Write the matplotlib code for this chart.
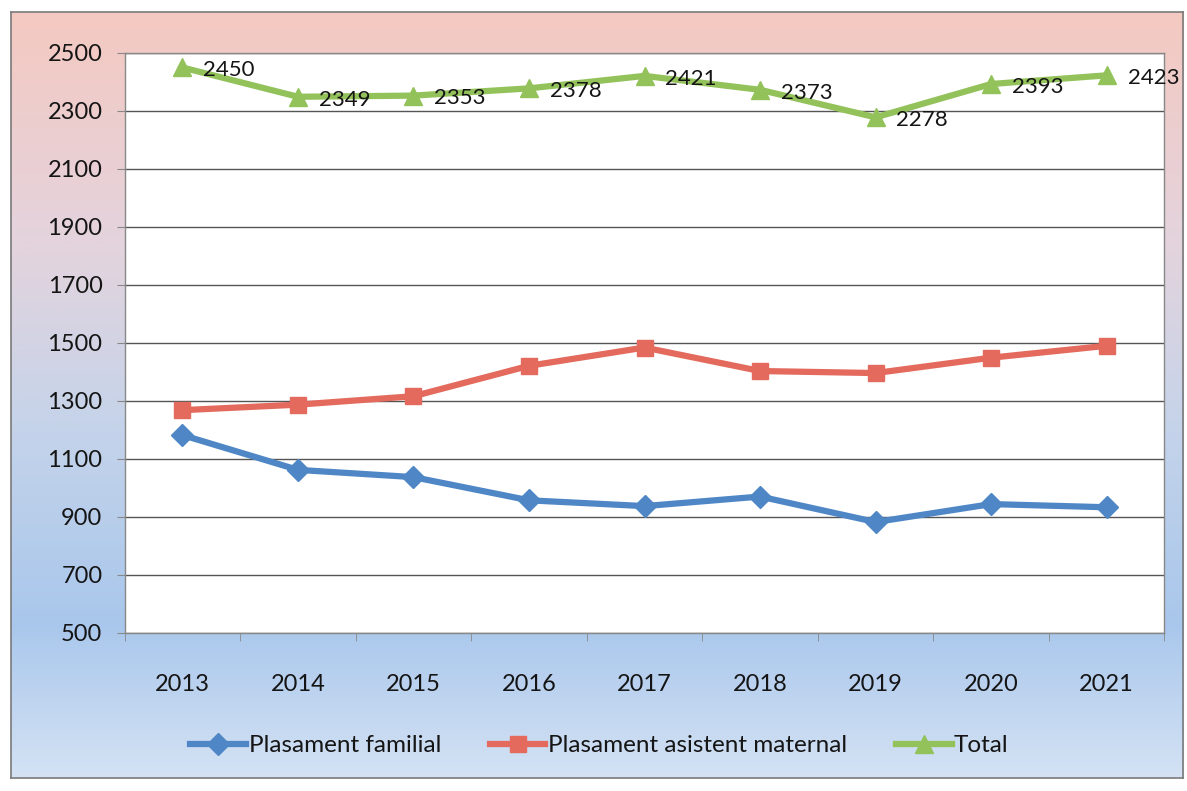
import numpy as np
import matplotlib
matplotlib.use("Agg")
import matplotlib.pyplot as plt
from matplotlib.colors import LinearSegmentedColormap
from matplotlib.lines import Line2D

plt.rcParams['font.family'] = ['Lato', 'DejaVu Sans']

years = ["2013", "2014", "2015", "2016", "2017", "2018", "2019", "2020", "2021"]
familial = [1182, 1062, 1037, 957, 937, 970, 882, 944, 933]
maternal = [1268, 1287, 1316, 1421, 1484, 1403, 1396, 1449, 1490]
total = [2450, 2349, 2353, 2378, 2421, 2373, 2278, 2393, 2423]
yticks = [500, 700, 900, 1100, 1300, 1500, 1700, 1900, 2100, 2300, 2500]

c_blue = "#4f87c6"
c_red = "#e36a5c"
c_green = "#93c25a"
txt = "#151515"

fig = plt.figure(figsize=(11.87, 7.91), dpi=100)

# gradient chart background (pink top -> blue bottom)
bg = fig.add_axes([0.009, 0.017, 0.988, 0.968])
grad = LinearSegmentedColormap.from_list("bg", [
    (0.0, "#f4c9c1"), (0.3, "#e4d3dd"), (0.55, "#c4d3ea"),
    (0.8, "#a9c7ec"), (1.0, "#d4e2f4")])
bg.imshow(np.linspace(0, 1, 256).reshape(-1, 1), aspect="auto", cmap=grad,
          extent=[0, 1, 0, 1])
bg.set_xticks([])
bg.set_yticks([])
for s in bg.spines.values():
    s.set_color("#7a7a7a")
    s.set_linewidth(1.2)

ax = fig.add_axes([0.105, 0.2, 0.876, 0.733])
ax.set_facecolor("white")
x = np.arange(len(years))

ax.plot(x, familial, color=c_blue, lw=4.5, marker="D", ms=11)
ax.plot(x, maternal, color=c_red, lw=4.5, marker="s", ms=12)
ax.plot(x, total, color=c_green, lw=4.5, marker="^", ms=13)

for xi, v in zip(x, total):
    ax.annotate(str(v), (xi, v), xytext=(15, -2), textcoords="offset points",
                va="center", ha="left", fontsize=16, color=txt)

ax.set_xlim(-0.5, len(years) - 0.5)
ax.set_ylim(500, 2500)
ax.set_yticks(yticks)
ax.set_yticklabels([str(t) for t in yticks], fontsize=17, color=txt)
ax.set_xticks(x)
ax.set_xticklabels(years, fontsize=17, color=txt)
ax.set_xticks(np.arange(-0.5, len(years)), minor=True)
ax.tick_params(axis="x", which="major", length=0, pad=30)
ax.tick_params(axis="x", which="minor", length=6, color="#888888")
ax.tick_params(axis="y", length=6, color="#888888", pad=10)
ax.grid(axis="y", color="#555555", lw=1)
ax.set_axisbelow(True)
for s in ax.spines.values():
    s.set_color("#888888")
    s.set_linewidth(1)

handles = [
    Line2D([], [], color=c_blue, lw=4.5, marker="D", ms=11),
    Line2D([], [], color=c_red, lw=4.5, marker="s", ms=12),
    Line2D([], [], color=c_green, lw=4.5, marker="^", ms=13),
]
leg = fig.legend(handles, ["Plasament familial", "Plasament asistent maternal", "Total"],
                 loc="center", bbox_to_anchor=(0.505, 0.057), ncol=3, frameon=False,
                 fontsize=17.5, handlelength=2.3, handletextpad=0.1, columnspacing=2.0)
for t in leg.get_texts():
    t.set_color(txt)

fig.savefig("out.png", dpi=100)
